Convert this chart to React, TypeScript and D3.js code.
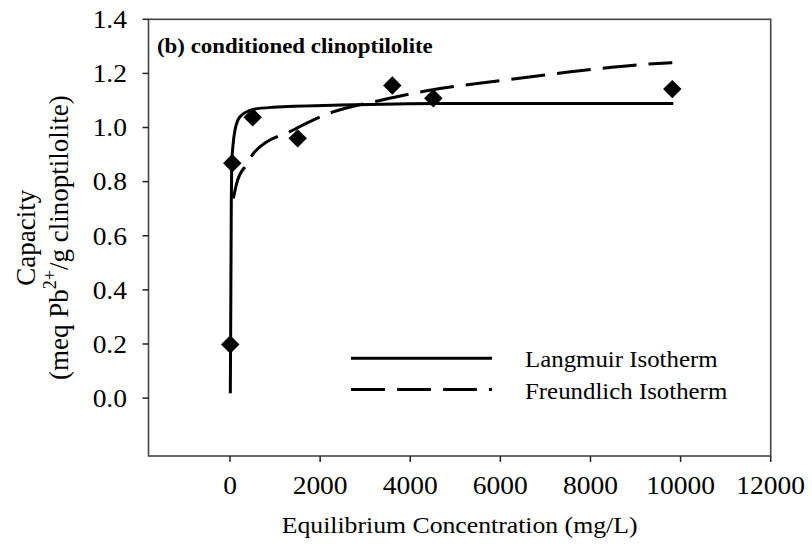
import React from 'react';
import * as d3 from 'd3';

const xTicks = [0, 2000, 4000, 6000, 8000, 10000, 12000];
const yTicks = [0.0, 0.2, 0.4, 0.6, 0.8, 1.0, 1.2, 1.4];

// measured data (diamonds)
const dataC = [5, 50, 503, 1502, 3602, 4512, 9816];
const dataQ = [0.198, 0.868, 1.038, 0.96, 1.155, 1.108, 1.142];

// Langmuir fitted curve
const langC = [7, 18, 29, 38, 67, 111, 222, 517, 961, 2441, 4660, 9838];
const langQ = [0.018, 0.36, 0.73, 0.868, 0.935, 0.991, 1.04, 1.067, 1.075, 1.083, 1.089, 1.089];

// Freundlich fitted curve
const freC = [74, 148, 355, 555, 1405, 2290, 3330, 4365, 5990, 7470, 9505, 9816];
const freQ = [0.738, 0.794, 0.861, 0.911, 0.991, 1.058, 1.1, 1.136, 1.173, 1.204, 1.237, 1.24];

const legendLabels = ['Langmuir Isotherm', 'Freundlich Isotherm'];

const W = 812;
const H = 552;
const L = 148.5, R = 770.7, T = 19.3, B = 456;
const SX = 1.1;

const FONT = "'Liberation Serif', 'Times New Roman', Times, serif";

export default function App() {
  const x = d3.scaleLinear().domain([-1809, 12000]).range([L, R]);
  const y = d3.scaleLinear().domain([-0.214, 1.4]).range([B, T]);

  const line = d3
    .line<[number, number]>()
    .x((d) => x(d[0]))
    .y((d) => y(d[1]))
    .curve(d3.curveMonotoneX);

  const langPts: [number, number][] = langC.map((c, i) => [c, langQ[i]]);
  const frePts: [number, number][] = freC.map((c, i) => [c, freQ[i]]);
  const diamond = d3.symbol().type(d3.symbolSquare).size(170)();

  const cy = (T + B) / 2;
  const ts = { fontFamily: FONT };

  return (
    <svg
      width={W}
      height={H}
      style={{ position: 'absolute', left: 0, top: 0, background: '#fff', fontFamily: FONT }}
    >
      <rect x={0} y={0} width={W} height={H} fill="#fff" />
      {/* frame */}
      <rect x={L} y={T} width={R - L} height={B - T} fill="none" stroke="#444" strokeWidth={1.6} />
      {/* y ticks */}
      {yTicks.map((t) => (
        <g key={'y' + t}>
          <line x1={L - 6} x2={L} y1={y(t)} y2={y(t)} stroke="#222" strokeWidth={1.5} />
          <text
            style={ts}
            transform={`translate(127,${y(t)}) scale(${SX},1)`}
            dy="0.35em"
            textAnchor="end"
            fontSize={25}
          >
            {t.toFixed(1)}
          </text>
        </g>
      ))}
      {/* x ticks */}
      {xTicks.map((t) => (
        <g key={'x' + t}>
          <line x1={x(t)} x2={x(t)} y1={B} y2={B + 6} stroke="#222" strokeWidth={1.5} />
          <text
            style={ts}
            transform={`translate(${x(t)},494) scale(${SX},1)`}
            textAnchor="middle"
            fontSize={25}
          >
            {t}
          </text>
        </g>
      ))}
      {/* axis titles */}
      <text
        style={ts}
        transform={`translate(${(L + R) / 2},533) scale(${SX},1)`}
        textAnchor="middle"
        fontSize={23.4}
      >
        Equilibrium Concentration (mg/L)
      </text>
      <g transform={`translate(35,${cy}) rotate(-90)`}>
        <text style={ts} x={0} y={0} textAnchor="middle" fontSize={27}>Capacity</text>
      </g>
      <g transform={`translate(68,${cy}) rotate(-90)`}>
        <text style={ts} x={0} y={0} textAnchor="middle" fontSize={27}>
          (meq Pb
          <tspan fontSize={18} dy={-12}>2+</tspan>
          <tspan dy={12}>/g clinoptilolite)</tspan>
        </text>
      </g>
      {/* panel label */}
      <text
        style={ts}
        transform={`translate(157,53) scale(${SX},1)`}
        fontSize={20.8}
        fontWeight="bold"
      >
        (b) conditioned clinoptilolite
      </text>
      {/* curves */}
      <path d={line(langPts) || ''} fill="none" stroke="#000" strokeWidth={3} />
      <path
        d={line(frePts) || ''}
        fill="none"
        stroke="#000"
        strokeWidth={3}
        strokeDasharray="34 12"
      />
      {/* data */}
      {dataC.map((c, i) => (
        <path
          key={'d' + i}
          d={diamond || ''}
          transform={`translate(${x(c)},${y(dataQ[i])}) rotate(45)`}
          fill="#000"
        />
      ))}
      {/* legend */}
      <line x1={351} x2={492} y1={358.3} y2={358.3} stroke="#000" strokeWidth={3} />
      <line x1={351} x2={492} y1={389.5} y2={389.5} stroke="#000" strokeWidth={3} strokeDasharray="34 12" />
      <text style={ts} transform={`translate(525,366.5) scale(${SX},1)`} fontSize={22.6}>
        {legendLabels[0]}
      </text>
      <text style={ts} transform={`translate(525,398.5) scale(${SX},1)`} fontSize={22.6}>
        {legendLabels[1]}
      </text>
    </svg>
  );
}
